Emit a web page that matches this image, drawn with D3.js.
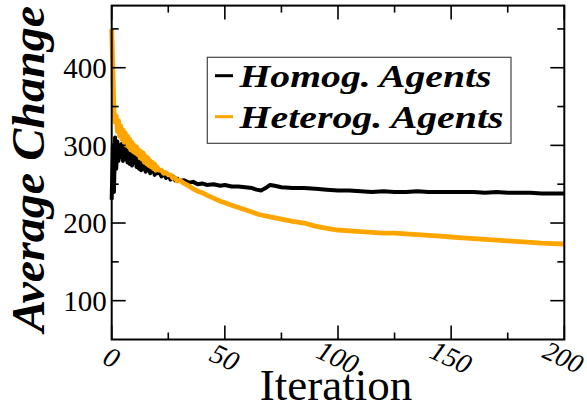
<!DOCTYPE html>
<html><head><meta charset="utf-8">
<script src="https://cdn.jsdelivr.net/npm/d3@7"></script>
<style>
html,body{margin:0;padding:0;background:#fff;}
svg{display:block;}
</style></head>
<body>
<svg id="chart" width="587" height="410"></svg>
<script>
// ---- data ----
const homogIter = [0,0.5,1,1.5,2,2.5,3,3.5,4,4.5,5,5.5,6,6.5,7,7.5,8,8.5,9,9.5,10,10.5,11,11.5,12,12.5,13,13.5,14,14.5,15,15.5,16,16.5,17,17.5,18,18.5,19,19.5,20,21,22,23,24,25,26,27,28,29,30,32,34,36,38,40,42,45,48,50,53,56,59,62,64,66,68,70,72,75,80,85,90,95,100,105,110,115,120,125,130,135,140,145,150,155,160,165,170,175,180,185,190,195,200];
const homogVals = [230,300,240,310,270,305,280,300,285,302,280,295,282,298,278,290,276,292,274,288,278,286,272,284,270,282,268,280,270,278,266,276,268,274,264,272,266,270,262,270,264,266,260,264,258,262,256,260,255,257,254,255,252,253,250,251,249,250,248,249,247,247,246,245,243,242,245,249,248,246,245,245,244,243,242,242,241,240,241,240,240,241,240,240,240,240,240,239,240,239,239,239,238,238,238];
const heterIter = [0,0.5,1,1.5,2,2.5,3,3.5,4,4.5,5,5.5,6,6.5,7,7.5,8,8.5,9,9.5,10,10.5,11,11.5,12,12.5,13,13.5,14,14.5,15,15.5,16,16.5,17,17.5,18,18.5,19,19.5,20,21,22,23,24,25,26,27,28,29,30,32,34,36,38,40,42,45,48,50,53,56,60,65,70,75,80,85,90,95,100,105,110,115,120,125,130,135,140,145,150,155,160,165,170,175,180,185,190,195,200];
const heterVals = [450,400,345,330,338,318,332,312,325,308,320,304,316,300,312,298,308,294,304,292,300,290,298,288,294,284,292,282,290,278,286,276,284,274,280,272,278,270,276,268,272,268,268,264,265,262,262,258,258,254,255,251,248,244,241,239,236,232,228,226,223,220,216,211,208,205,202,200,196,193,191,190,189,188,187,187,186,185,184,183,182,181,180,179,178,177,176,175,174,173.5,173];
const seriesNames = ["Homog. Agents", "Heterog. Agents"];
const seriesColors = ["#000000", "#FFA500"];
const xTicks = [0,50,100,150,200];
const yTicks = [100,200,300,400];
const xLabel = "Iteration";
const yLabel = "Average Change";

// ---- layout ----
const svg = d3.select("#chart");
const L = 111.7, R = 564.3, T = 5.6, B = 339.5;
const x = d3.scaleLinear().domain([0,200]).range([L,R]);
const y = d3.scaleLinear().domain([50,480]).range([B,T]);
const serif = "'Liberation Serif','Times New Roman',serif";

const series = [
  {name: seriesNames[0], color: seriesColors[0], w: 4, len: 252, pts: homogIter.map((d,i)=>[d, homogVals[i]])},
  {name: seriesNames[1], color: seriesColors[1], w: 4.8, len: 264, pts: heterIter.map((d,i)=>[d, heterVals[i]])}
];

const line = d3.line().x(d=>x(d[0])).y(d=>y(d[1]));
series.forEach(s=>{
  svg.append("path").attr("d", line(s.pts)).attr("fill","none")
    .attr("stroke", s.color).attr("stroke-width", s.w).attr("stroke-linejoin","round");
});

// axes: ticks inward on all sides
const major = 14, minor = 7;
const xMinor = [25,75,125,175];
const yMin = [150,250,350,450];
function ticksX(g, vals, len, dir){
  vals.forEach(v=>{
    g.append("line").attr("x1", x(v)).attr("x2", x(v)).attr("y1", 0).attr("y2", dir*len)
      .attr("stroke","#000").attr("stroke-width",1.6);
  });
}
const gB = svg.append("g").attr("transform",`translate(0,${B})`);
ticksX(gB, xTicks, major, -1); ticksX(gB, xMinor, minor, -1);
const gT = svg.append("g").attr("transform",`translate(0,${T})`);
ticksX(gT, xTicks, major, 1); ticksX(gT, xMinor, minor, 1);
function ticksY(g, vals, len, dir){
  vals.forEach(v=>{
    g.append("line").attr("y1", y(v)).attr("y2", y(v)).attr("x1", 0).attr("x2", dir*len)
      .attr("stroke","#000").attr("stroke-width",1.6);
  });
}
const gL = svg.append("g").attr("transform",`translate(${L},0)`);
ticksY(gL, yTicks, major, 1); ticksY(gL, yMin, minor, 1);
const gR = svg.append("g").attr("transform",`translate(${R},0)`);
ticksY(gR, yTicks, major, -1); ticksY(gR, yMin, minor, -1);

svg.append("rect").attr("x",L).attr("y",T).attr("width",R-L).attr("height",B-T)
  .attr("fill","none").attr("stroke","#000").attr("stroke-width",2);

// tick labels
yTicks.forEach(v=>{
  svg.append("text").attr("x", L-5).attr("y", y(v)).attr("dy","0.35em")
    .attr("text-anchor","end").attr("font-family",serif).attr("font-size",29)
    .text(v);
});
xTicks.forEach(v=>{
  svg.append("text").attr("transform",`translate(${v===200 ? x(v)-1 : x(v)},${357}) rotate(25)`)
    .attr("dy","0.35em").attr("text-anchor","middle").attr("font-family",serif)
    .attr("font-style","italic").attr("font-size",v===200 ? 27 : 28).text(v);
});

// axis titles
svg.append("text").attr("x", 336).attr("y", 400).attr("text-anchor","middle")
  .attr("font-family",serif).attr("font-size",45).text(xLabel);
svg.append("text").attr("transform","translate(44,169) rotate(-90)")
  .attr("text-anchor","middle").attr("font-family",serif).attr("font-weight","bold")
  .attr("font-style","italic").attr("font-size",47)
  .attr("textLength",326).attr("lengthAdjust","spacingAndGlyphs").text(yLabel);

// legend
svg.append("rect").attr("x",207.3).attr("y",57.3).attr("width",303.7).attr("height",86)
  .attr("fill","#fff").attr("stroke","#444").attr("stroke-width",1.2);
const legY = [75.7, 116.7];
series.forEach((s,i)=>{
  svg.append("line").attr("x1",215).attr("x2",233).attr("y1",legY[i]).attr("y2",legY[i])
    .attr("stroke",s.color).attr("stroke-width",3);
  svg.append("text").attr("x",239.5).attr("y",legY[i]+11.5).attr("font-family",serif)
    .attr("font-weight","bold").attr("font-style","italic").attr("font-size",32)
    .attr("textLength",s.len).attr("lengthAdjust","spacingAndGlyphs").text(s.name);
});
</script>
</body></html>
